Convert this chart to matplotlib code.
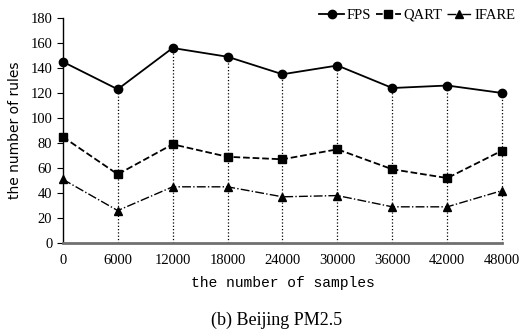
"""
Number of rules vs number of samples, Beijing PM2.5
"""
import matplotlib.pyplot as plt

# data
samples = [0, 6000, 12000, 18000, 24000, 30000, 36000, 42000, 48000]
fps = [145, 123, 156, 149, 135, 142, 124, 126, 120]
qart = [85, 55, 79, 69, 67, 75, 59, 52, 74]
ifare = [51, 26, 45, 45, 37, 38, 29, 29, 42]

fig = plt.figure(figsize=(5.32, 3.33), dpi=100)
ax = fig.add_axes([0.118, 0.270, 0.826, 0.676])

# dotted drop lines from the axis up to the FPS points
ax.vlines(samples[1:], 0, fps[1:], colors='black', linestyles=':', linewidth=0.9, clip_on=False)

ax.plot(samples, fps, '-', color='black', marker='o', markersize=6, linewidth=1.3, label='FPS', clip_on=False)
ax.plot(samples, qart, '--', color='black', marker='s', markersize=6, linewidth=1.3, label='QART', clip_on=False)
ax.plot(samples, ifare, '-.', color='black', marker='^', markersize=6, linewidth=1.0, label='IFARE', clip_on=False)

ax.set_xlim(0, 48000)
ax.set_ylim(0, 180)
ax.set_xticks(samples)
ax.set_yticks(range(0, 181, 20))
ax.tick_params(axis='x', length=0, pad=8)
ax.tick_params(axis='y', length=4, direction='out')
for lab in ax.get_xticklabels() + ax.get_yticklabels():
    lab.set_fontfamily('Liberation Serif')
    lab.set_fontsize(10.5)

ax.spines['top'].set_visible(False)
ax.spines['right'].set_visible(False)
ax.spines['bottom'].set_color('#707070')
ax.spines['bottom'].set_linewidth(2)
ax.spines['left'].set_linewidth(1)
for s in ax.spines.values():
    s.set_clip_on(False)

ax.set_xlabel('the number of samples', fontfamily='Liberation Mono', fontsize=10.5, labelpad=6)
ax.set_ylabel('the number of rules', fontfamily='DejaVu Sans', fontsize=10, labelpad=6)

ax.legend(loc='center right', bbox_to_anchor=(1.03, 1.013), ncol=3, frameon=False,
          handlelength=1.7, handletextpad=0.2, columnspacing=0.3, borderaxespad=0,
          borderpad=0, prop={'family': 'Liberation Serif', 'size': 10.5})

fig.text(0.52, 0.025, '(b) Beijing PM2.5', ha='center', fontfamily='Liberation Serif', fontsize=13)

fig.savefig('out.png', dpi=100)
